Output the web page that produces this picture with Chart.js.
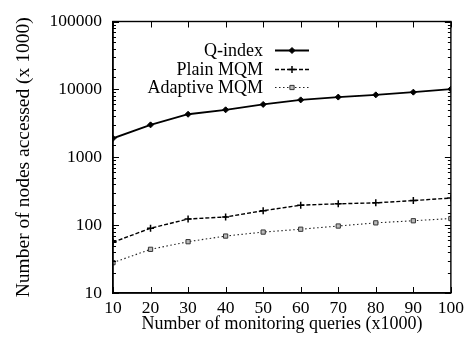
<!DOCTYPE html>
<html>
<head>
<meta charset="utf-8">
<script src="https://cdn.jsdelivr.net/npm/chart.js@4/dist/chart.umd.min.js"></script>
<style>
  html, body { margin: 0; padding: 0; background: #fff; }
  #wrap { width: 469px; height: 348px; }
</style>
</head>
<body>
<div id="wrap"><canvas id="nodes-chart"></canvas></div>
<script>
const queries = [10, 20, 30, 40, 50, 60, 70, 80, 90, 100];
const qIndex = [1900, 3000, 4300, 5000, 6000, 7000, 7700, 8300, 9100, 10100];
const plainMqm = [56, 90, 123, 132, 163, 197, 206, 213, 230, 251];
const adaptiveMqm = [28, 44, 57, 69, 79, 87, 97, 108, 116, 125];
const yMajorTicks = [10, 100, 1000, 10000, 100000];

const serif = "'Liberation Serif', 'DejaVu Serif', serif";

// plot frame plus gnuplot-style inward tick marks on all four sides
const innerTicks = {
  id: "innerTicks",
  afterDatasetsDraw(chart) {
    const { ctx, chartArea: a, scales } = chart;
    ctx.save();
    ctx.strokeStyle = "#000";
    ctx.lineWidth = 1;
    ctx.beginPath();
    scales.x.ticks.forEach(t => {
      const px = Math.round(scales.x.getPixelForValue(t.value)) + 0.5;
      ctx.moveTo(px, a.bottom); ctx.lineTo(px, a.bottom - 6);
      ctx.moveTo(px, a.top); ctx.lineTo(px, a.top + 6);
    });
    scales.y.ticks.forEach(t => {
      const major = yMajorTicks.includes(t.value);
      const len = major ? 6 : 3;
      const py = Math.round(scales.y.getPixelForValue(t.value)) + 0.5;
      ctx.moveTo(a.left, py); ctx.lineTo(a.left + len, py);
      ctx.moveTo(a.right, py); ctx.lineTo(a.right - len, py);
    });
    ctx.stroke();
    ctx.lineWidth = 1.4;
    ctx.strokeRect(a.left, a.top, a.right - a.left, a.bottom - a.top);
    ctx.restore();
  }
};

// key in the upper left: label right-aligned, then line sample with marker
const keyBox = {
  id: "keyBox",
  afterDraw(chart) {
    const { ctx } = chart;
    const textRight = 263, x0 = 275, x1 = 309;
    const rows = [50, 69, 87];
    ctx.save();
    ctx.font = "18px " + serif;
    ctx.textAlign = "right";
    ctx.textBaseline = "middle";
    chart.data.datasets.forEach((ds, i) => {
      const y = rows[i];
      ctx.fillStyle = "#000";
      ctx.fillText(ds.label, textRight, y + 1);
      ctx.beginPath();
      ctx.setLineDash(ds.borderDash || []);
      ctx.lineWidth = ds.borderWidth;
      ctx.strokeStyle = ds.borderColor;
      ctx.moveTo(x0, y + 0.5); ctx.lineTo(x1, y + 0.5);
      ctx.stroke();
      ctx.setLineDash([]);
      ctx.fillStyle = ds.pointBackgroundColor || "#000";
      ctx.strokeStyle = ds.pointBorderColor;
      ctx.lineWidth = ds.pointBorderWidth;
      Chart.helpers.drawPoint(ctx, {
        pointStyle: ds.pointStyle,
        radius: ds.pointRadius,
        borderWidth: ds.pointBorderWidth
      }, (x0 + x1) / 2, y + 0.5);
    });
    ctx.restore();
  }
};

new Chart(document.getElementById("nodes-chart").getContext("2d"), {
  type: "line",
  data: {
    labels: queries,
    datasets: [
      {
        label: "Q-index",
        data: qIndex,
        borderColor: "#000",
        borderWidth: 1.8,
        pointStyle: "rectRot",
        pointRadius: 3,
        pointBackgroundColor: "#000",
        pointBorderColor: "#000",
        pointBorderWidth: 1
      },
      {
        label: "Plain MQM",
        data: plainMqm,
        borderColor: "#000",
        borderWidth: 1.4,
        borderDash: [4, 2],
        pointStyle: "cross",
        pointRadius: 3.5,
        pointBackgroundColor: "#000",
        pointBorderColor: "#000",
        pointBorderWidth: 1.5
      },
      {
        label: "Adaptive MQM",
        data: adaptiveMqm,
        borderColor: "#222",
        borderWidth: 1.1,
        borderDash: [1.5, 2.5],
        pointStyle: "rect",
        pointRadius: 3,
        pointBackgroundColor: "#bbb",
        pointBorderColor: "#333",
        pointBorderWidth: 1
      }
    ]
  },
  options: {
    responsive: true,
    maintainAspectRatio: false,
    animation: false,
    layout: { padding: { top: 15, right: 17, left: 12, bottom: 13 } },
    plugins: {
      legend: { display: false },
      tooltip: { enabled: false }
    },
    scales: {
      x: {
        type: "linear",
        min: 10,
        max: 100,
        afterFit(scale) { scale.height = 42; },
        ticks: { stepSize: 10, color: "#000", padding: 5, maxRotation: 0, font: { family: serif, size: 17.5 } },
        grid: { display: false, drawTicks: false },
        border: { color: "#000", width: 1.4 },
        title: {
          display: true,
          text: "Number of monitoring queries (x1000)",
          color: "#000",
          padding: { top: 0, bottom: 0 },
          font: { family: serif, size: 18 }
        }
      },
      y: {
        type: "logarithmic",
        min: 10,
        max: 100000,
        afterFit(scale) { scale.width = 101; },
        ticks: {
          color: "#000",
          padding: 11,
          autoSkip: false,
          font: { family: serif, size: 17.5 },
          callback: v => (yMajorTicks.includes(v) ? String(v) : "")
        },
        grid: { display: false, drawTicks: false },
        border: { color: "#000", width: 1.4 },
        title: {
          display: true,
          text: "Number of nodes accessed (x 1000)",
          color: "#000",
          padding: { top: 0, bottom: 0 },
          font: { family: serif, size: 19.5 }
        }
      }
    }
  },
  plugins: [innerTicks, keyBox]
});
</script>
</body>
</html>
